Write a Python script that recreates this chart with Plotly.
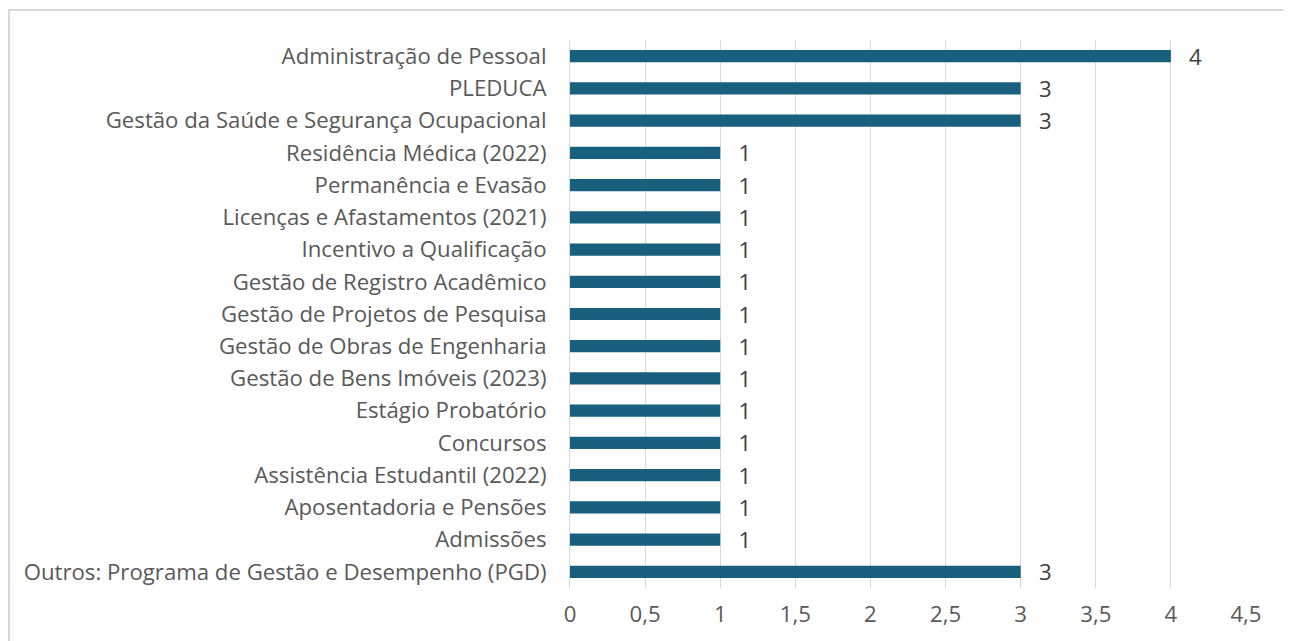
import plotly.graph_objects as go

categories = [
    "Administração de Pessoal",
    "PLEDUCA",
    "Gestão da Saúde e Segurança Ocupacional",
    "Residência Médica (2022)",
    "Permanência e Evasão",
    "Licenças e Afastamentos (2021)",
    "Incentivo a Qualificação",
    "Gestão de Registro Acadêmico",
    "Gestão de Projetos de Pesquisa",
    "Gestão de Obras de Engenharia",
    "Gestão de Bens Imóveis (2023)",
    "Estágio Probatório",
    "Concursos",
    "Assistência Estudantil (2022)",
    "Aposentadoria e Pensões",
    "Admissões",
    "Outros: Programa de Gestão e Desempenho (PGD)",
]
values = [4, 3, 3, 1, 1, 1, 1, 1, 1, 1, 1, 1, 1, 1, 1, 1, 3]
x_ticks = [0, 0.5, 1, 1.5, 2, 2.5, 3, 3.5, 4, 4.5]

FONT = "Open Sans"
TXT = "#595959"
FS = 22.2

fig = go.Figure(go.Bar(
    y=categories,
    x=values,
    orientation="h",
    marker=dict(color="#19607f", line=dict(width=0)),
    text=["  \u2009" + str(v) for v in values],
    textposition="outside",
    constraintext="none",
    textfont=dict(family=FONT, size=FS, color="#404040"),
    cliponaxis=False,
    width=0.38,
))

# page body has an 8px margin; compensate
OFF = 8
W, H = 1291 - OFF, 641 - OFF
L, R, T, B = 570 - OFF, 45, 40 - OFF, 51
pw, ph = W - L - R, H - T - B

fig.update_layout(
    width=W, height=H,
    margin=dict(l=L, r=R, t=T, b=B),
    paper_bgcolor="white",
    plot_bgcolor="white",
    separators=",.",
    showlegend=False,
    font=dict(family=FONT, size=FS, color=TXT),
    xaxis=dict(
        range=[0, 4.5],
        tickvals=x_ticks,
        showgrid=True,
        gridcolor="#d9d9d9",
        gridwidth=1,
        zeroline=False,
        showline=False,
        ticks="outside",
        ticklen=6,
        tickcolor="rgba(0,0,0,0)",
        tickfont=dict(family=FONT, size=FS, color=TXT),
    ),
    yaxis=dict(
        autorange="reversed",
        showgrid=False,
        showline=True,
        linecolor="#d9d9d9",
        linewidth=1,
        ticks="outside",
        ticklen=18,
        tickcolor="rgba(0,0,0,0)",
        tickfont=dict(family=FONT, size=FS, color=TXT),
    ),
    shapes=[dict(
        type="rect", xref="paper", yref="paper",
        x0=(1 - L) / pw, x1=(1300 - L) / pw,
        y0=(H - B - 660) / ph, y1=(H - B - (10 - OFF)) / ph,
        line=dict(color="#d9d9d9", width=2),
        fillcolor="rgba(0,0,0,0)",
        layer="below",
    )],
)

fig.write_html("out.html")
